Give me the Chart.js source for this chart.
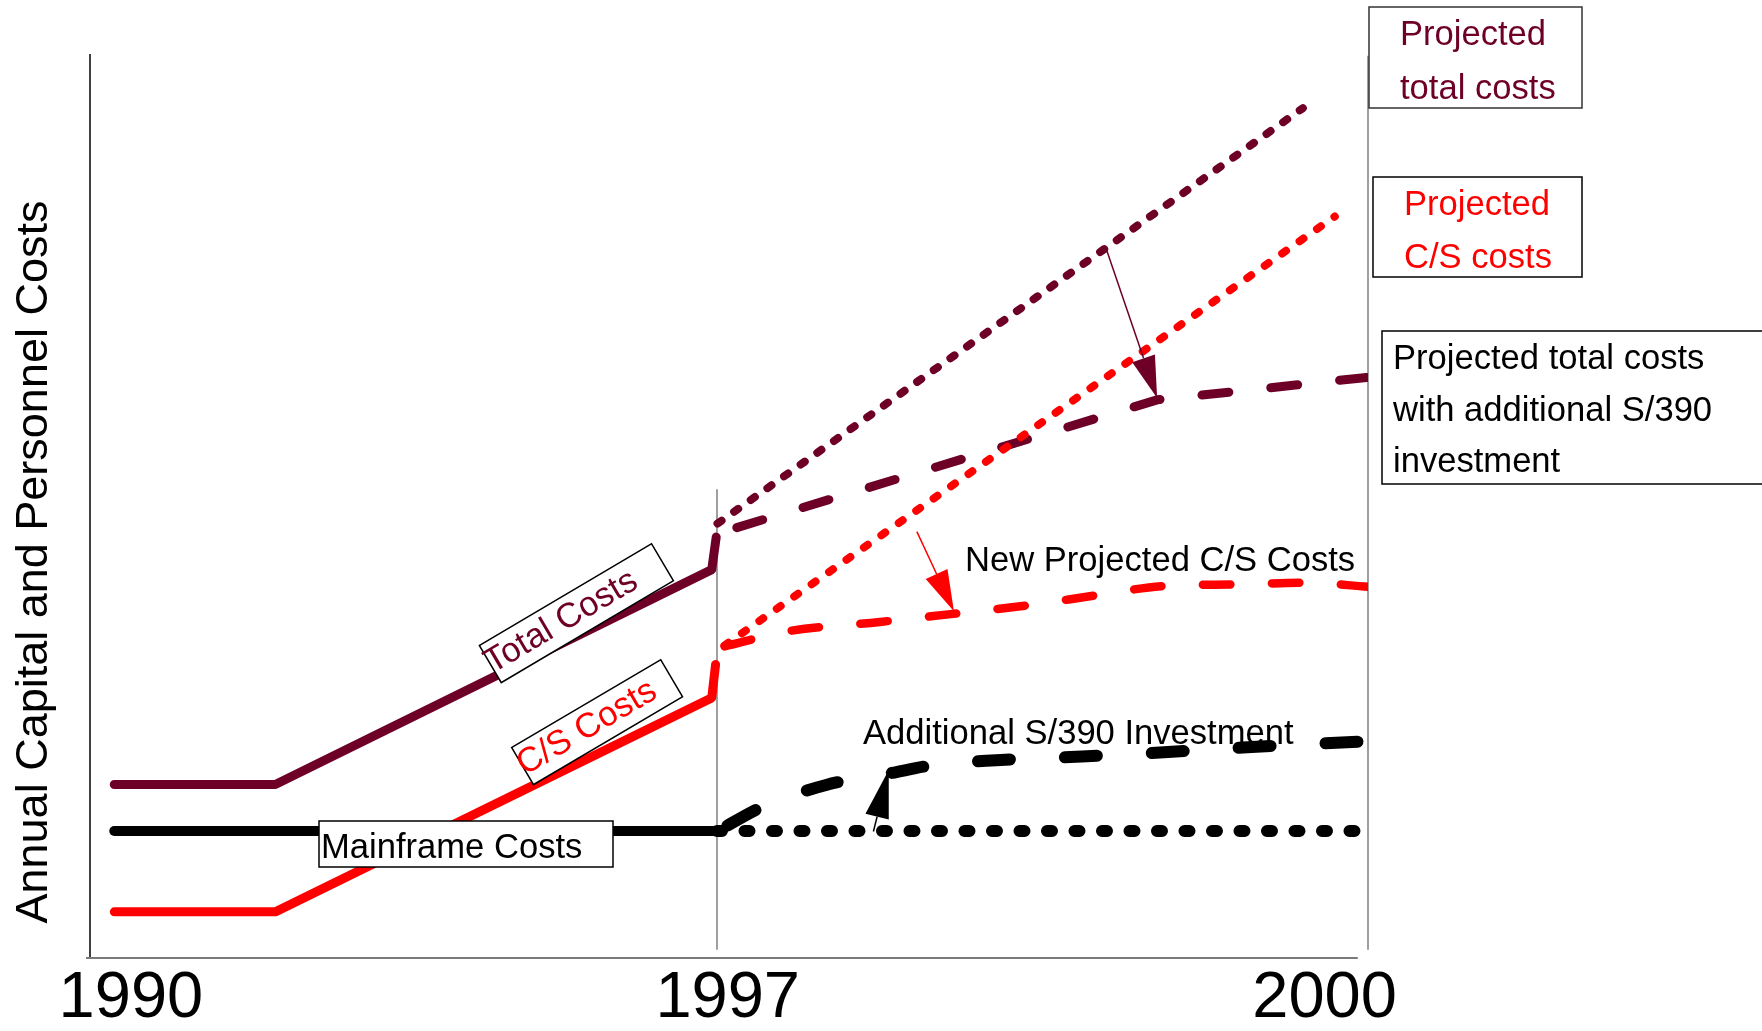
<!DOCTYPE html>
<html>
<head>
<meta charset="utf-8">
<script src="https://cdn.jsdelivr.net/npm/chart.js@4.4.1/dist/chart.umd.min.js"></script>
<style>
  html, body { margin: 0; padding: 0; background: #fff; }
  canvas { display: block; }
</style>
</head>
<body>
<canvas id="costChart" width="1762" height="1031"></canvas>
<script>
// x runs in schematic time units: the y axis is at 0, 1997 near 49, 2000 at 100
const xTickLabels = ['1990', '1997', '2000'];
const xTickValues = [3.2, 49.9, 96.6];

// history up to 1997
const totalX = [1.9, 14.5, 48.65, 49.0];
const totalY = [19.1, 19.1, 42.9, 46.5];
const csX = [1.9, 14.5, 48.65, 48.95];
const csY = [5.0, 5.0, 28.7, 32.4];
const mainframeX = [1.9, 49.06];
const mainframeY = [13.95, 13.95];

// projections 1997 - 2000
const projTotalX = [49.1, 94.9];
const projTotalY = [48.0, 94.0];
const projCsX = [49.65, 97.4];
const projCsY = [34.5, 82.0];
const withS390X = [49.1, 83.5, 100];
const withS390Y = [46.9, 61.7, 64.2];
const newCsX = [49.65, 54.5, 61.8, 68.15, 73.7, 78.95, 84.2, 89.75, 95.2, 100];
const newCsY = [34.4, 36.05, 37.1, 38.1, 39.0, 40.1, 41.1, 41.25, 41.45, 41.0];
const mfFlatX = [49.06, 100];
const mfFlatY = [13.95, 13.95];
const addS390X = [49.06, 52.56, 57.6, 62.6, 66.0, 70.9, 77.6, 84.35, 90.9, 99.2];
const addS390Y = [13.9, 16.6, 19.05, 20.35, 21.25, 21.8, 22.2, 22.7, 23.25, 23.85];

// arrows pointing from the old projection to the new one
const arrowFrom = [[79.5, 78.5], [64.7, 47.1], [61.3, 13.9]];
const arrowTo = [[83.5, 61.9], [67.6, 38.3], [62.5, 20.7]];

const MAROON = '#6e0028';
const RED = '#ff0000';
const FONT = '"Liberation Sans", Arial, sans-serif';

Chart.defaults.font.family = FONT;

function pts(xs, ys) {
    return xs.map((x, i) => ({ x: x, y: ys[i] }));
}

function line(data, color, width, dash, dashOffset, tension) {
    return {
        data: data,
        borderColor: color,
        borderWidth: width,
        borderDash: dash || [],
        borderDashOffset: dashOffset || 0,
        borderCapStyle: 'round',
        borderJoinStyle: 'round',
        pointRadius: 0,
        fill: false,
        tension: tension || 0,
        cubicInterpolationMode: tension ? 'monotone' : 'default'
    };
}

function drawArrow(ctx, x0, y0, x1, y1, color, len) {
    const a = Math.atan2(y1 - y0, x1 - x0);
    const half = 12;
    const bx = x1 - len * Math.cos(a), by = y1 - len * Math.sin(a);
    ctx.strokeStyle = color;
    ctx.lineWidth = 1.5;
    ctx.beginPath();
    ctx.moveTo(x0, y0);
    ctx.lineTo(bx, by);
    ctx.stroke();
    ctx.fillStyle = color;
    ctx.beginPath();
    ctx.moveTo(x1, y1);
    ctx.lineTo(bx - half * Math.sin(a), by + half * Math.cos(a));
    ctx.lineTo(bx + half * Math.sin(a), by - half * Math.cos(a));
    ctx.closePath();
    ctx.fill();
}

function box(ctx, x, y, w, h, stroke) {
    ctx.fillStyle = '#fff';
    ctx.fillRect(x, y, w, h);
    ctx.strokeStyle = stroke;
    ctx.lineWidth = 1.5;
    ctx.strokeRect(x, y, w, h);
}

function text(ctx, str, x, y, color) {
    ctx.fillStyle = color;
    ctx.textAlign = 'left';
    ctx.textBaseline = 'alphabetic';
    ctx.fillText(str, x, y);
}

function tiltedLabel(ctx, cx, cy, w, h, deg, str, color) {
    ctx.save();
    ctx.translate(cx, cy);
    ctx.rotate(deg * Math.PI / 180);
    box(ctx, -w / 2, -h / 2, w, h, '#000');
    text(ctx, str, -w / 2 - 3, -h / 2 + 31, color);
    ctx.restore();
}

const framePlugin = {
    id: 'frame',
    beforeDatasetsDraw(chart) {
        const ctx = chart.ctx;
        const xs = chart.scales.x, ys = chart.scales.y;
        ctx.save();
        // 1997 and 2000 guides
        ctx.strokeStyle = '#808080';
        ctx.lineWidth = 1.5;
        ctx.beginPath();
        ctx.moveTo(xs.getPixelForValue(49.06), ys.getPixelForValue(51.8));
        ctx.lineTo(xs.getPixelForValue(49.06), ys.getPixelForValue(0.8));
        ctx.moveTo(xs.getPixelForValue(100), ys.getPixelForValue(99.8));
        ctx.lineTo(xs.getPixelForValue(100), ys.getPixelForValue(0.8));
        ctx.stroke();
        // axes
        ctx.strokeStyle = '#000';
        ctx.lineWidth = 1.5;
        ctx.beginPath();
        ctx.moveTo(chart.chartArea.left, chart.chartArea.top);
        ctx.lineTo(chart.chartArea.left, chart.chartArea.bottom);
        ctx.stroke();
        ctx.strokeStyle = '#7a7a7a';
        ctx.lineWidth = 2;
        ctx.beginPath();
        ctx.moveTo(chart.chartArea.left - 4, chart.chartArea.bottom + 1);
        ctx.lineTo(xs.getPixelForValue(99.2), chart.chartArea.bottom + 1);
        ctx.stroke();
        // y axis title
        ctx.save();
        ctx.translate(47, 562);
        ctx.rotate(-Math.PI / 2);
        ctx.font = '45px ' + FONT;
        ctx.fillStyle = '#000';
        ctx.textAlign = 'center';
        ctx.textBaseline = 'alphabetic';
        ctx.fillText('Annual Capital and Personnel Costs', 0, 0);
        ctx.restore();
        ctx.restore();
    },
    afterDatasetsDraw(chart) {
        const ctx = chart.ctx;
        const xs = chart.scales.x, ys = chart.scales.y;
        ctx.save();
        const arrowColors = [MAROON, RED, '#000'];
        const headLen = [42, 41, 48];
        arrowFrom.forEach((p, i) => {
            drawArrow(ctx,
                xs.getPixelForValue(p[0]), ys.getPixelForValue(p[1]),
                xs.getPixelForValue(arrowTo[i][0]), ys.getPixelForValue(arrowTo[i][1]),
                arrowColors[i], headLen[i]);
        });

        ctx.font = '34.6px ' + FONT;
        tiltedLabel(ctx, 576.4, 613.2, 200, 43, -30.6, 'Total Costs', MAROON);
        tiltedLabel(ctx, 597.1, 722.2, 173, 43, -30.5, 'C/S Costs', RED);

        box(ctx, 319, 821, 294, 46, '#000');
        text(ctx, 'Mainframe Costs', 321, 858, '#000');

        text(ctx, 'New Projected C/S Costs', 965, 571, '#000');
        text(ctx, 'Additional S/390 Investment', 863, 744, '#000');

        box(ctx, 1369, 7, 213, 101, '#333');
        text(ctx, 'Projected', 1400, 45, MAROON);
        text(ctx, 'total costs', 1400, 99, MAROON);

        box(ctx, 1373, 177, 209, 100, '#000');
        text(ctx, 'Projected', 1404, 215, RED);
        text(ctx, 'C/S costs', 1404, 268, RED);

        box(ctx, 1382, 331, 400, 153, '#000');
        text(ctx, 'Projected total costs', 1393, 369, '#000');
        text(ctx, 'with additional S/390', 1393, 420.5, '#000');
        text(ctx, 'investment', 1393, 472, '#000');
        ctx.restore();
    }
};

new Chart(document.getElementById('costChart').getContext('2d'), {
    type: 'line',
    data: {
        datasets: [
            line(pts(mainframeX, mainframeY), '#000', 10),
            line(pts(totalX, totalY), MAROON, 9),
            line(pts(csX, csY), RED, 9),
            line(pts(addS390X, addS390Y), '#000', 12, [32, 55], 75, 0.4),
            line(pts(mfFlatX, mfFlatY), '#000', 12, [5, 22.5]),
            line(pts(projCsX, projCsY), RED, 8, [4.7, 16.6]),
            line(pts(newCsX, newCsY), RED, 8.5, [27.5, 41.5], 0, 0.4),
            line(pts(withS390X, withS390Y), MAROON, 9, [27, 42.2], 49),
            line(pts(projTotalX, projTotalY), MAROON, 8, [5, 15.4])
        ]
    },
    options: {
        responsive: false,
        animation: false,
        devicePixelRatio: 1,
        layout: { padding: { left: 90, right: 394, top: 54, bottom: 0 } },
        plugins: { legend: { display: false }, tooltip: { enabled: false } },
        scales: {
            x: {
                type: 'linear',
                min: 0,
                max: 100,
                grid: { display: false, drawTicks: false },
                border: { display: false },
                afterBuildTicks: (scale) => {
                    scale.ticks = xTickValues.map(v => ({ value: v }));
                },
                afterFit: (scale) => { scale.height = 74; },
                ticks: {
                    autoSkip: false,
                    maxRotation: 0,
                    padding: 10,
                    color: '#000',
                    font: { size: 65, lineHeight: 1 },
                    callback: (value, index) => xTickLabels[index]
                }
            },
            y: {
                type: 'linear',
                display: false,
                min: 0,
                max: 100
            }
        }
    },
    plugins: [framePlugin]
});
</script>
</body>
</html>
